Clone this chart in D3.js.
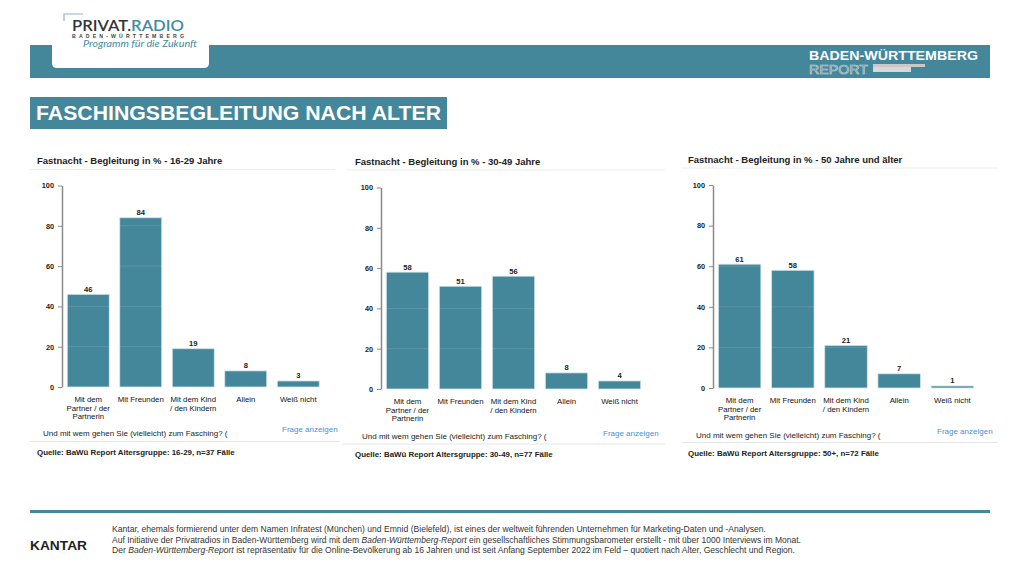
<!DOCTYPE html>
<html><head><meta charset="utf-8">
<script src="https://cdn.jsdelivr.net/npm/d3@7"></script>
<style>
html,body{margin:0;padding:0;background:#fff;}
svg{display:block;font-family:"Liberation Sans",Arial,sans-serif;}
</style></head>
<body><svg id="c" width="1019" height="573"></svg>
<script>
// ---- data ----
const categories = ["Mit dem\nPartner / der\nPartnerin", "Mit Freunden", "Mit dem Kind\n/ den Kindern", "Allein", "Weiß nicht"];
const values1629 = [46, 84, 19, 8, 3];
const values3049 = [58, 51, 56, 8, 4];
const values50 = [61, 58, 21, 7, 1];
const yTicks = [0, 20, 40, 60, 80, 100];
const panelTitles = ["Fastnacht - Begleitung in % - 16-29 Jahre", "Fastnacht - Begleitung in % - 30-49 Jahre", "Fastnacht - Begleitung in % - 50 Jahre und älter"];
const sources = ["Quelle: BaWü Report Altersgruppe: 16-29, n=37 Fälle", "Quelle: BaWü Report Altersgruppe: 30-49, n=77 Fälle", "Quelle: BaWü Report Altersgruppe: 50+, n=72 Fälle"];
const question = "Und mit wem gehen Sie (vielleicht) zum Fasching? (";
const mainTitle = "FASCHINGSBEGLEITUNG NACH ALTER";
const footerLines = [
  [["Kantar, ehemals formierend unter dem Namen Infratest (München) und Emnid  (Bielefeld), ist eines der weltweit führenden Unternehmen für Marketing-Daten  und -Analysen.", false]],
  [["Auf Initiative der Privatradios in  Baden-Württemberg wird mit dem ", false], ["Baden-Württemberg-Report", true], [" ein gesellschaftliches Stimmungsbarometer erstellt - mit über 1000 Interviews im Monat.", false]],
  [["Der ", false], ["Baden-Württemberg-Report", true], [" ist repräsentativ für die Online-Bevölkerung ab 16 Jahren und ist seit Anfang September 2022 im Feld – quotiert nach Alter, Geschlecht und Region.", false]]
];

const TEAL = "#44869a";
const svg = d3.select("#c");

// ---- header ----
svg.append("rect").attr("x", 30).attr("y", 45).attr("width", 960).attr("height", 33).attr("fill", TEAL);
svg.append("path").attr("d", "M52,0 H209 V63 Q209,68 204,68 H57 Q52,68 52,63 Z").attr("fill", "#fff");
svg.append("path").attr("d", "M64,21 V14 H83").attr("fill", "none").attr("stroke", "#8fb6c4").attr("stroke-width", 1.2);
const logo = svg.append("text").attr("x", 72).attr("y", 31).attr("font-size", 15.5).attr("font-family", "Lato, 'Liberation Sans', sans-serif").attr("font-weight", 600)
  .attr("textLength", 112).attr("lengthAdjust", "spacingAndGlyphs");
logo.append("tspan").attr("fill", "#333").text("PRIVAT.");
logo.append("tspan").attr("fill", "#3f8ba3").text("RADIO");
svg.append("text").attr("x", 72).attr("y", 38).attr("font-size", 5.2).attr("font-weight", "bold").attr("fill", "#444")
  .attr("textLength", 112).attr("lengthAdjust", "spacing").text("BADEN-WÜRTTEMBERG");
svg.append("text").attr("x", 83).attr("y", 47).attr("font-size", 9.6).attr("font-style", "italic").attr("fill", "#3f8ba3")
  .attr("font-family", "Lato, 'Liberation Sans', sans-serif").attr("textLength", 114).attr("lengthAdjust", "spacingAndGlyphs").text("Programm für die Zukunft");

svg.append("text").attr("x", 809).attr("y", 60).attr("font-size", 13).attr("font-weight", "bold").attr("fill", "#fff")
  .attr("textLength", 169).attr("lengthAdjust", "spacingAndGlyphs").text("BADEN-WÜRTTEMBERG");
svg.append("text").attr("x", 809).attr("y", 74).attr("font-size", 13).attr("fill", "none").attr("stroke", "#cfd9dc").attr("stroke-width", 0.6)
  .attr("textLength", 59).attr("lengthAdjust", "spacingAndGlyphs").text("REPORT");
svg.append("rect").attr("x", 873).attr("y", 64).attr("width", 52).attr("height", 3).attr("fill", "#c9c9c9");
svg.append("rect").attr("x", 873).attr("y", 67).attr("width", 38).attr("height", 5).attr("fill", "#d8d8d8");

// ---- main title ----
svg.append("rect").attr("x", 30).attr("y", 97).attr("width", 417).attr("height", 32).attr("fill", TEAL);
svg.append("text").attr("x", 36).attr("y", 120).attr("font-size", 20).attr("font-weight", "bold").attr("fill", "#fff")
  .attr("textLength", 405).attr("lengthAdjust", "spacingAndGlyphs").text(mainTitle);

// ---- panels ----
const panels = [
  {vals: values1629, ax: 62, xr: 324.5, yTop: 185.5, y0: 387, tx: 37, ty: 164, ul: [30, 335, 169.5], q: [43, 436], fr: [282, 432], sep: [30, 340, 441.5], src: [37, 454.5]},
  {vals: values3049, ax: 381, xr: 646, yTop: 187.5, y0: 389, tx: 355, ty: 164.5, ul: [347, 665, 170], q: [362, 439], fr: [603, 435.5], sep: [342, 665, 444], src: [355, 456.5]},
  {vals: values50, ax: 713, xr: 979, yTop: 185, y0: 388, tx: 688, ty: 162.5, ul: [682, 998, 168], q: [696, 438], fr: [937, 434], sep: [682, 998, 442.5], src: [688, 455.5]}
];

panels.forEach((p, i) => {
  const g = svg.append("g");
  g.append("text").attr("x", p.tx).attr("y", p.ty).attr("font-size", 9.5).attr("font-weight", "bold").attr("fill", "#222").text(panelTitles[i]);
  g.append("line").attr("x1", p.ul[0]).attr("x2", p.ul[1]).attr("y1", p.ul[2]).attr("y2", p.ul[2]).attr("stroke", "#ececec").attr("stroke-width", 1);

  const x = d3.scaleBand().domain(categories).range([p.ax, p.xr]).paddingInner(0.2).paddingOuter(0.1);
  const y = d3.scaleLinear().domain([0, 100]).range([p.y0, p.yTop]);

  // bars
  g.selectAll("rect.bar").data(p.vals).enter().append("rect").attr("class", "bar")
    .attr("x", (d, j) => x(categories[j])).attr("width", x.bandwidth())
    .attr("y", d => y(d)).attr("height", d => y(0) - y(d))
    .attr("fill", TEAL).attr("stroke", "#d7e6eb").attr("stroke-width", 0.8);

  // faint gridlines
  g.selectAll("line.grid").data(yTicks.slice(1, -1)).enter().append("line")
    .attr("x1", p.ax).attr("x2", p.xr).attr("y1", d => y(d)).attr("y2", d => y(d))
    .attr("stroke", "#ffffff").attr("stroke-opacity", 0.13).attr("stroke-width", 1);

  // value labels
  g.selectAll("text.val").data(p.vals).enter().append("text")
    .attr("x", (d, j) => x(categories[j]) + x.bandwidth() / 2).attr("y", d => y(d) - 2.5)
    .attr("text-anchor", "middle").attr("font-size", 7.6).attr("font-weight", "bold").attr("fill", "#222").text(d => d);

  // y axis
  const ya = g.append("g").attr("transform", `translate(${p.ax},0)`)
    .call(d3.axisLeft(y).tickValues(yTicks).tickSize(4).tickPadding(4).tickSizeOuter(0));
  ya.select(".domain").attr("stroke", "#8a8a8a").attr("stroke-width", 1.5);
  ya.selectAll(".tick line").attr("stroke", "#8a8a8a");
  ya.selectAll(".tick text").attr("font-size", 7.3).attr("font-weight", "bold").attr("fill", "#222").attr("font-family", "'Liberation Sans',Arial,sans-serif");

  // x axis labels
  const xa = g.append("g").attr("transform", `translate(0,${p.y0})`)
    .call(d3.axisBottom(x).tickSize(0).tickPadding(0));
  xa.select(".domain").remove();
  xa.selectAll(".tick text").each(function(d) {
    const t = d3.select(this);
    t.text(null).attr("y", 0).attr("dy", null).attr("font-size", 7.8).attr("fill", "#111").attr("font-family", "'Liberation Sans',Arial,sans-serif");
    d.split("\n").forEach((ln, k) => {
      t.append("tspan").attr("x", 0).attr("y", 15 + k * 8.7).text(ln);
    });
  });

  g.append("text").attr("x", p.q[0]).attr("y", p.q[1]).attr("font-size", 8).attr("fill", "#222").text(question);
  g.append("text").attr("x", p.fr[0]).attr("y", p.fr[1]).attr("font-size", 8).attr("fill", "#4a8fd0").text("Frage anzeigen");
  g.append("line").attr("x1", p.sep[0]).attr("x2", p.sep[1]).attr("y1", p.sep[2]).attr("y2", p.sep[2]).attr("stroke", "#e6e6e6").attr("stroke-width", 1);
  g.append("text").attr("x", p.src[0]).attr("y", p.src[1]).attr("font-size", 7.9).attr("font-weight", "bold").attr("fill", "#222").text(sources[i]);
});

// ---- footer ----
svg.append("rect").attr("x", 30).attr("y", 510).attr("width", 960).attr("height", 3).attr("fill", TEAL);
svg.append("text").attr("x", 30).attr("y", 550).attr("font-size", 13).attr("font-weight", "bold").attr("fill", "#222")
  .attr("textLength", 57).attr("lengthAdjust", "spacingAndGlyphs").text("KANTAR");
const fWidths = [654, 689, 683];
const fY = [532, 542.5, 553];
footerLines.forEach((parts, i) => {
  const t = svg.append("text").attr("x", 112).attr("y", fY[i]).attr("font-size", 8.6).attr("fill", "#333")
    .attr("font-family", "'Liberation Sans Narrow','Arial Narrow','Liberation Sans',sans-serif")
    .attr("textLength", fWidths[i]).attr("lengthAdjust", "spacingAndGlyphs");
  parts.forEach(([s, it]) => t.append("tspan").attr("font-style", it ? "italic" : "normal").text(s));
});
</script></body></html>
